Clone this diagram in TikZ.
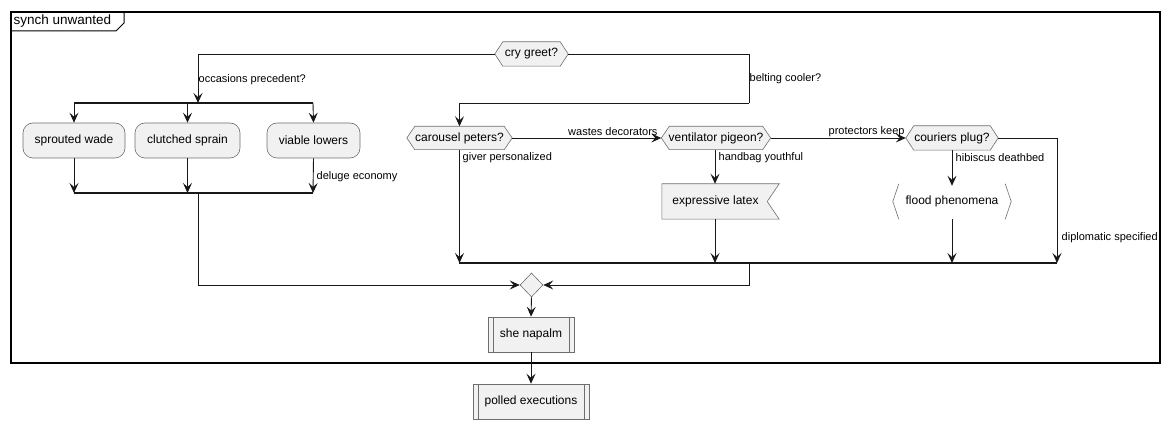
\documentclass[tikz,border=0pt]{standalone}
\usepackage{fontspec}
\setmainfont{Liberation Sans}
\usetikzlibrary{arrows.meta,shapes.geometric,calc}
\definecolor{boxfill}{HTML}{F1F1F1}
\definecolor{boxline}{HTML}{6E6E6E}
\definecolor{ink}{HTML}{181818}
\tikzset{
  box/.style={draw=none,inner sep=0pt,font=\fontsize{12}{14}\selectfont,text=black},
  shapeline/.style={draw=boxline,line width=0.6pt,fill=boxfill},
  conn/.style={draw=ink,line width=0.9pt},
  arr/.style={conn,-{Stealth[length=10pt,width=9pt,inset=4pt]}},
  bar/.style={draw=ink,line width=1.4pt},
  lbl/.style={inner sep=0pt,anchor=west,font=\fontsize{11}{13}\selectfont,text=black},
  roundbox/.style={shapeline,rounded corners=10pt,inner sep=0pt,font=\fontsize{12}{14}\selectfont},
}
\newcommand\hexnode[6]{%
  \node[box,minimum width=#4,minimum height=#5] (#1) at (#2,#3) {};
  \draw[shapeline] (#1.west) -- ([xshift=8pt]#1.north west) -- ([xshift=-8pt]#1.north east) -- (#1.east) -- ([xshift=-8pt]#1.south east) -- ([xshift=8pt]#1.south west) -- cycle;
  \node[box] at (#1) {#6};
}
\newcommand\subnode[5]{%
  \node[box,shapeline,minimum width=#4,minimum height=35] (#1) at (#2,#3) {#5};
  \draw[draw=boxline,line width=0.6pt] ([xshift=5.5pt]#1.north west) -- ([xshift=5.5pt]#1.south west);
  \draw[draw=boxline,line width=0.6pt] ([xshift=-5.5pt]#1.north east) -- ([xshift=-5.5pt]#1.south east);
}
\begin{document}
\begin{tikzpicture}[x=1pt,y=-1pt]
\useasboundingbox (0,0) rectangle (1170,430);
% frame
\draw[draw=black,line width=1.5pt] (11,12) rectangle (1160,363);
\draw[draw=black,line width=1pt] (11,31) -- (116,31) -- (124,23) -- (124,12);
\node[inner sep=0pt,anchor=west,font=\fontsize{13.5}{15}\selectfont] (title) at (13.5,21.5) {synch unwanted};
% nodes
\hexnode{cg}{531.5}{54}{73}{24}{cry greet?}
\node[roundbox,minimum width=102,minimum height=35] (sw) at (74,140.5) {sprouted wade};
\node[roundbox,minimum width=105,minimum height=35] (cs) at (187.5,140.5) {clutched sprain};
\node[roundbox,minimum width=93,minimum height=35] (vl) at (313.5,140.5) {viable lowers};
\hexnode{cp}{459.5}{138}{105}{23}{carousel peters?}
\hexnode{vp}{716}{138}{109}{23}{ventilator pigeon?}
\hexnode{cpl}{952}{138}{92}{24}{couriers plug?}
% expressive latex (receive shape)
\node[box,minimum width=117,minimum height=35] (el) at (720.5,201.5) {};
\draw[shapeline] (el.north west) -- (el.north east) -- ([xshift=-12pt]el.east) -- (el.south east) -- (el.south west) -- cycle;
\node[box] (elt) at (715.5,201.5) {expressive latex};
% flood phenomena
\node[box,minimum width=118,minimum height=35] (fp) at (952,201.5) {flood phenomena};
\draw[draw=boxline,line width=0.6pt] ([xshift=6pt]fp.north west) -- (fp.west) -- ([xshift=6pt]fp.south west);
\draw[draw=boxline,line width=0.6pt] ([xshift=-6pt]fp.north east) -- (fp.east) -- ([xshift=-6pt]fp.south east);
% merge diamond
\node[diamond,shapeline,inner sep=0pt,minimum width=23,minimum height=24] (dm) at (531.5,285) {};
\subnode{sn}{531}{334.5}{86}{she napalm}
\subnode{pe}{531}{401.5}{116}{polled executions}
% coordinates
\coordinate (f1) at (198,103);
\coordinate (f1L) at (74,103);
\coordinate (f1R) at (313,103);
\coordinate (j1L) at (74,193);
\coordinate (j1R) at (313,193);
\coordinate (j1) at (198,193);
\coordinate (rt) at (749,103);
\coordinate (m1L) at (459,263);
\coordinate (m1R) at (1057,263);
\coordinate (m1) at (749,263);
% fork / join bars
\draw[bar] (f1L) -- (f1R);
\draw[bar] (j1L) -- (j1R);
\draw[bar] (m1L) -- (m1R);
% left branch
\draw[arr] (cg.west) -| (f1);
\node[lbl] (l1) at (198.5,80) {occasions precedent?};
\draw[arr] (f1L) -- (sw.north);
\draw[arr] (cs.north |- f1) -- (cs.north);
\draw[arr] (f1R) -- (vl.north);
\draw[arr] (sw.south) -- (j1L);
\draw[arr] (cs.south) -- (cs.south |- j1);
\draw[arr] (vl.south) -- (j1R);
\node[lbl] (l2) at (316.5,177) {deluge economy};
\draw[arr] (j1) |- (dm.west);
% right branch
\draw[conn] (cg.east) -| (rt);
\draw[arr] (rt) -| (cp.north);
\node[lbl] (l3) at (749.5,79) {belting cooler?};
\draw[arr] (cp.east) -- (vp.west);
\node[lbl] (l4) at (568,131.5) {wastes decorators};
\draw[arr] (cp.south) -- (cp.south |- m1L);
\node[lbl] (l5) at (462.5,158) {giver personalized};
\draw[arr] (vp.south -| 715,0) -- (el.north -| 715,0);
\node[lbl] (l6) at (718.5,158) {handbag youthful};
\draw[arr] (el.south -| 715,0) -- (715,263);
\draw[arr] (vp.east) -- (cpl.west);
\node[lbl] (l7) at (828.5,131.5) {protectors keep};
\draw[arr] (cpl.south) -- ([yshift=-2pt]fp.north);
\node[lbl] (l8) at (955.5,158) {hibiscus deathbed};
\draw[arr] (fp.south) -- (fp.south |- m1);
\draw[arr] (cpl.east) -| (m1R);
\node[lbl] (l9) at (1061.5,238) {diplomatic specified};
\draw[arr] (m1) |- (dm.east);
\draw[arr] (dm.south) -- (sn.north);
\draw[arr] (sn.south) -- (pe.north);
\end{tikzpicture}
\end{document}
